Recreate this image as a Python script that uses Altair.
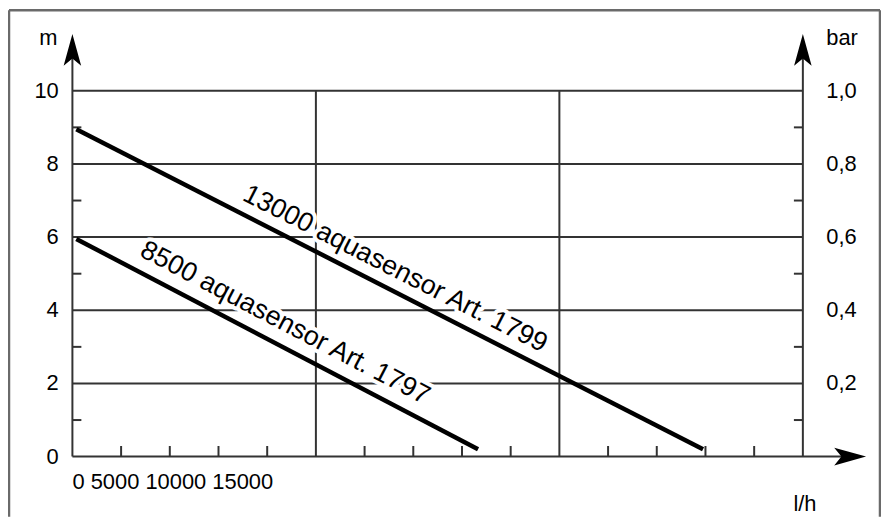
import altair as alt
import pandas as pd

# ---------------- data ----------------
series_names = ["13000 aquasensor Art. 1799", "8500 aquasensor Art. 1797"]
flow_13000 = [80, 12950]          # l/h
head_13000 = [8.95, 0.2]          # m
flow_8500 = [80, 8330]
head_8500 = [5.95, 0.2]

label_x = [6628, 4368]
label_y = [5.13, 3.65]
label_angle = [27.0, 27.6]

y_major = [0, 2, 4, 6, 8, 10]
y_major_labels = ["0", "2", "4", "6", "8", "10"]
bar_values = [2, 4, 6, 8, 10]
bar_labels = ["0,2", "0,4", "0,6", "0,8", "1,0"]
x_grid = [5000, 10000]
x_minor = [1000, 2000, 3000, 4000, 6000, 7000, 8000, 9000, 11000, 12000, 13000, 14000]
y_minor = [1, 3, 5, 7, 9]
x_tick_labels = ["0", "5000", "10000", "15000"]

X_MIN, X_MAX = -1322.6, 16604.6
Y_MIN, Y_MAX = -1.646, 12.231
W, H = 877, 510
FONT = "Liberation Sans"

xs = alt.Scale(domain=[X_MIN, X_MAX], nice=False, zero=False)
ys = alt.Scale(domain=[Y_MIN, Y_MAX], nice=False, zero=False)


def rules(rows, color, width):
    df = pd.DataFrame(rows, columns=["x", "x2", "y", "y2"])
    return alt.Chart(df).mark_rule(color=color, strokeWidth=width, strokeCap="butt").encode(
        x=alt.X("x:Q", scale=xs, axis=None),
        x2="x2:Q",
        y=alt.Y("y:Q", scale=ys, axis=None),
        y2="y2:Q",
    )


def texts(xv, yv, labels, size, align, angle=0, color="black", stroke=None, sw=0,
          baseline="middle"):
    df = pd.DataFrame({"x": xv, "y": yv, "t": labels})
    kw = dict(font=FONT, fontSize=size, align=align, baseline=baseline, color=color, angle=angle)
    if stroke:
        kw.update(stroke=stroke, strokeWidth=sw, strokeJoin="round")
    return alt.Chart(df).mark_text(**kw).encode(
        x=alt.X("x:Q", scale=xs, axis=None),
        y=alt.Y("y:Q", scale=ys, axis=None),
        text="t:N",
    )


# frame (top, left, right)
frame = rules(
    [[-1302, 16584, 12.204, 12.204],
     [-1302, -1302, Y_MIN, 12.204],
     [16584, 16584, Y_MIN, 12.204]],
    "#6a6a6a", 2.5)

GRID = "#333333"
hgrid = rules([[0, 15000, v, v] for v in y_major if v > 0], GRID, 2)
vgrid = rules([[v, v, 0, 10] for v in x_grid], GRID, 2)
axes = rules([[0, 0, 0, 11.12], [15000, 15000, 0, 11.12], [0, 15971, 0, 0]], GRID, 2)
ticks = rules(
    [[v, v, 0, 0.29] for v in x_minor]
    + [[0, 184, v, v] for v in y_minor]
    + [[15000 - 184, 15000, v, v] for v in y_minor],
    GRID, 2)

# curves
curve_df = pd.DataFrame({
    "flow": flow_13000 + flow_8500,
    "head": head_13000 + head_8500,
    "series": [series_names[0]] * len(flow_13000) + [series_names[1]] * len(flow_8500),
})
curves = alt.Chart(curve_df).mark_line(color="black", strokeWidth=4.5, strokeCap="butt").encode(
    x=alt.X("flow:Q", scale=xs, axis=None),
    y=alt.Y("head:Q", scale=ys, axis=None),
    detail="series:N",
)

knock = [texts([label_x[i]], [label_y[i]], [series_names[i]], 27, "center",
               angle=label_angle[i], color="white", stroke="white", sw=8) for i in range(2)]
clabels = [texts([label_x[i]], [label_y[i]], [series_names[i]], 27, "center",
                 angle=label_angle[i]) for i in range(2)]

# arrowheads
up_df = pd.DataFrame({"x": [0, 15000], "y": [11.12, 11.12]})
up_arrows = alt.Chart(up_df).mark_point(
    shape="M0,-1L0.55,1L0,0.55L-0.55,1Z", filled=True, size=1024, color="black", opacity=1
).encode(x=alt.X("x:Q", scale=xs, axis=None), y=alt.Y("y:Q", scale=ys, axis=None))
right_df = pd.DataFrame({"x": [15971], "y": [0]})
right_arrow = alt.Chart(right_df).mark_point(
    shape="M1,0L-1,0.55L-0.55,0L-1,-0.55Z", filled=True, size=1024, color="black", opacity=1
).encode(x=alt.X("x:Q", scale=xs, axis=None), y=alt.Y("y:Q", scale=ys, axis=None))

# axis labels
left_labels = texts([-280] * len(y_major), y_major, y_major_labels, 22, "right")
right_labels = texts([15480] * len(bar_values), bar_values, bar_labels, 22, "left")
x_labels = texts([0], [-0.69], [" ".join(x_tick_labels)], 22, "left")
unit_m = texts([-495], [11.44], ["m"], 22, "center")
unit_bar = texts([15480], [11.44], ["bar"], 22, "left")
unit_lh = texts([14806], [-1.50], ["l/h"], 22, "left", baseline="alphabetic")

chart = alt.layer(
    frame, hgrid, vgrid, axes, ticks, *knock, curves, *clabels,
    up_arrows, right_arrow, left_labels, right_labels, x_labels, unit_m, unit_bar, unit_lh,
).properties(
    width=W, height=H, autosize=alt.AutoSizeParams(type="none"), padding=0,
).configure_view(stroke=None)

chart.save("out.html", embed_options={"renderer": "svg", "actions": False})
